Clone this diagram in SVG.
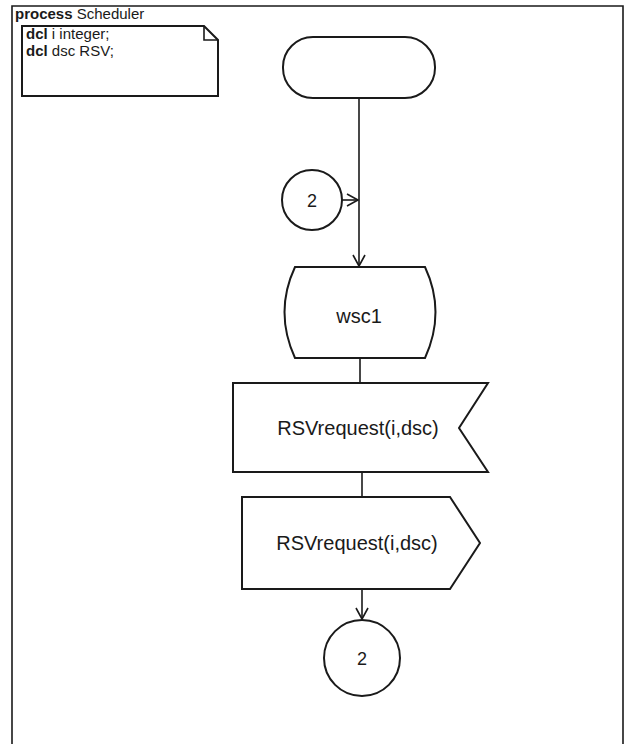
<svg xmlns="http://www.w3.org/2000/svg" width="625" height="744" viewBox="0 0 625 744">
<style>
.s{fill:#fff;stroke:#1a1a1a;stroke-width:2}
.l{fill:none;stroke:#1a1a1a;stroke-width:1.6}
.t{font-family:"Liberation Sans",Arial,sans-serif;fill:#1a1a1a}
</style>
<defs>
<marker id="a" markerWidth="14" markerHeight="14" refX="12" refY="7" orient="auto" markerUnits="userSpaceOnUse">
<path d="M1,1 L12,7 L1,13" fill="none" stroke="#1a1a1a" stroke-width="1.6"/>
</marker>
</defs>
<rect width="625" height="744" fill="#fff"/>
<g id="frame">
<path d="M12,746 L12,6 L623,6 L623,746" class="l" stroke-width="2"/>
<text x="15" y="19" class="t" font-size="15"><tspan font-weight="bold">process</tspan>  Scheduler</text>
</g>
<g id="decl">
<path d="M22,96 L22,26 L204,26 L218,40 L218,96 Z" class="s" stroke-width="1.6"/>
<path d="M204,26 L204,40 L218,40" class="l"/>
<text x="26" y="39" class="t" font-size="15"><tspan font-weight="bold">dcl</tspan> i integer;</text>
<text x="26" y="56" class="t" font-size="15"><tspan font-weight="bold">dcl</tspan> dsc RSV;</text>
</g>
<g id="connectors">
<line x1="359" y1="98" x2="359" y2="266" class="l" marker-end="url(#a)"/>
<line x1="342" y1="200" x2="358" y2="200" class="l" marker-end="url(#a)"/>
<line x1="360" y1="358" x2="360" y2="383" class="l"/>
<line x1="362" y1="472" x2="362" y2="497" class="l"/>
<line x1="362" y1="589" x2="362" y2="619" class="l" marker-end="url(#a)"/>
</g>
<g id="start">
<rect x="283" y="37" width="152" height="61" rx="30" class="s"/>
</g>
<g id="conn_in">
<circle cx="312" cy="200" r="30" class="s"/>
<text x="312" y="207" class="t" font-size="18" text-anchor="middle">2</text>
</g>
<g id="state_wsc1">
<path d="M295,267 L425,267 Q446,312 425,358 L295,358 Q274,312 295,267 Z" class="s"/>
<text x="359" y="323" class="t" font-size="20" text-anchor="middle">wsc1</text>
</g>
<g id="input">
<path d="M233,383 L488,383 L459,428 L488,472 L233,472 Z" class="s"/>
<text x="358" y="435" class="t" font-size="20" text-anchor="middle">RSVrequest(i,dsc)</text>
</g>
<g id="output">
<path d="M242,497 L450,497 L480,543 L450,589 L242,589 Z" class="s"/>
<text x="357" y="550" class="t" font-size="20" text-anchor="middle">RSVrequest(i,dsc)</text>
</g>
<g id="conn_out">
<circle cx="362" cy="658" r="38" class="s"/>
<text x="362" y="665" class="t" font-size="18" text-anchor="middle">2</text>
</g>
</svg>
